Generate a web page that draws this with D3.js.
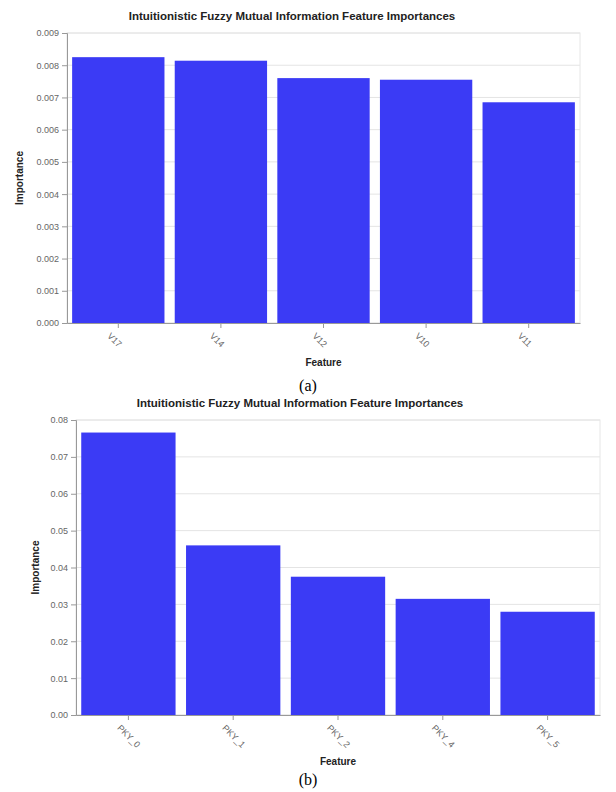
<!DOCTYPE html>
<html>
<head>
<meta charset="utf-8">
<script src="https://cdn.jsdelivr.net/npm/d3@7"></script>
<style>
  body { margin: 0; background: #fff; }
  text { font-family: "Liberation Sans", Arial, sans-serif; }
</style>
</head>
<body>
<div id="chart"></div>
<script>
const featuresA = ['V17', 'V14', 'V12', 'V10', 'V11'];
const valuesA = [0.00825, 0.00814, 0.0076, 0.00755, 0.00685];
const ticksA = [0, 0.001, 0.002, 0.003, 0.004, 0.005, 0.006, 0.007, 0.008, 0.009];

const featuresB = ['PKY_0', 'PKY_1', 'PKY_2', 'PKY_4', 'PKY_5'];
const valuesB = [0.0766, 0.046, 0.0375, 0.0315, 0.028];
const ticksB = [0, 0.01, 0.02, 0.03, 0.04, 0.05, 0.06, 0.07, 0.08];

const titleText = 'Intuitionistic Fuzzy Mutual Information Feature Importances';
const barColor = '#3b3bf5';

const width = 616;
const height = 792;

const svg = d3.select('#chart')
  .append('svg')
  .attr('width', width)
  .attr('height', height);

function drawPanel(features, values, ticks, box, fmt, caption) {
  const g = svg.append('g');

  const x = d3.scaleBand()
    .domain(features)
    .range([box.left, box.right])
    .paddingInner(0.1)
    .paddingOuter(0.05);

  const y = d3.scaleLinear()
    .domain([0, ticks[ticks.length - 1]])
    .range([box.bottom, box.top]);

  // grid
  g.append('g')
    .selectAll('line')
    .data(ticks)
    .join('line')
      .attr('x1', box.left)
      .attr('x2', box.right)
      .attr('y1', d => y(d))
      .attr('y2', d => y(d))
      .attr('stroke', '#e4e4e4')
      .attr('stroke-width', 1);

  // view border
  g.append('rect')
    .attr('x', box.left)
    .attr('y', box.top)
    .attr('width', box.right - box.left)
    .attr('height', box.bottom - box.top)
    .attr('fill', 'none')
    .attr('stroke', '#e6e6e6');

  g.append('g')
    .selectAll('rect')
    .data(values)
    .join('rect')
      .attr('x', (d, i) => x(features[i]))
      .attr('y', d => y(d))
      .attr('width', x.bandwidth())
      .attr('height', d => y(0) - y(d))
      .attr('fill', barColor);

  const yAxis = g.append('g')
    .attr('transform', `translate(${box.left},0)`)
    .call(d3.axisLeft(y).tickValues(ticks).tickFormat(d3.format(fmt)).tickSize(5).tickPadding(3));
  yAxis.selectAll('text').attr('font-size', 9).attr('fill', '#666');
  yAxis.selectAll('line, path').attr('stroke', '#999');

  const xAxis = g.append('g')
    .attr('transform', `translate(0,${box.bottom})`)
    .call(d3.axisBottom(x).tickSize(5).tickSizeOuter(0));
  xAxis.selectAll('line, path').attr('stroke', '#999');
  xAxis.selectAll('text')
    .attr('font-size', 9)
    .attr('fill', '#666')
    .attr('text-anchor', 'start')
    .attr('dy', '0.3em')
    .attr('transform', 'translate(-4,6) rotate(45)');

  g.append('text')
    .attr('x', box.titleX)
    .attr('y', box.top - 13)
    .attr('text-anchor', 'middle')
    .attr('font-size', 11.5)
    .attr('font-weight', 'bold')
    .attr('fill', '#222')
    .text(titleText);

  g.append('text')
    .attr('x', (box.left + box.right) / 2)
    .attr('y', box.bottom + box.featDy)
    .attr('text-anchor', 'middle')
    .attr('font-size', 10)
    .attr('font-weight', 'bold')
    .attr('fill', '#222')
    .text('Feature');

  g.append('text')
    .attr('transform', `translate(${box.yTitleX},${(box.top + box.bottom) / 2}) rotate(-90)`)
    .attr('text-anchor', 'middle')
    .attr('font-size', 10)
    .attr('font-weight', 'bold')
    .attr('fill', '#222')
    .text('Importance');

  svg.append('text')
    .attr('x', 308)
    .attr('y', box.bottom + box.captionDy)
    .attr('text-anchor', 'middle')
    .attr('font-size', 16)
    .style('font-family', '"Liberation Serif", "Times New Roman", serif')
    .attr('fill', '#000')
    .text(caption);
}

drawPanel(featuresA, valuesA, ticksA,
  { left: 67, right: 580, top: 33, bottom: 323, yTitleX: 23, titleX: 292, featDy: 43, captionDy: 68 }, '.3f', '(a)');

drawPanel(featuresB, valuesB, ticksB,
  { left: 76, right: 600, top: 420, bottom: 715, yTitleX: 39, titleX: 300, featDy: 50, captionDy: 70 }, '.2f', '(b)');
</script>
</body>
</html>
